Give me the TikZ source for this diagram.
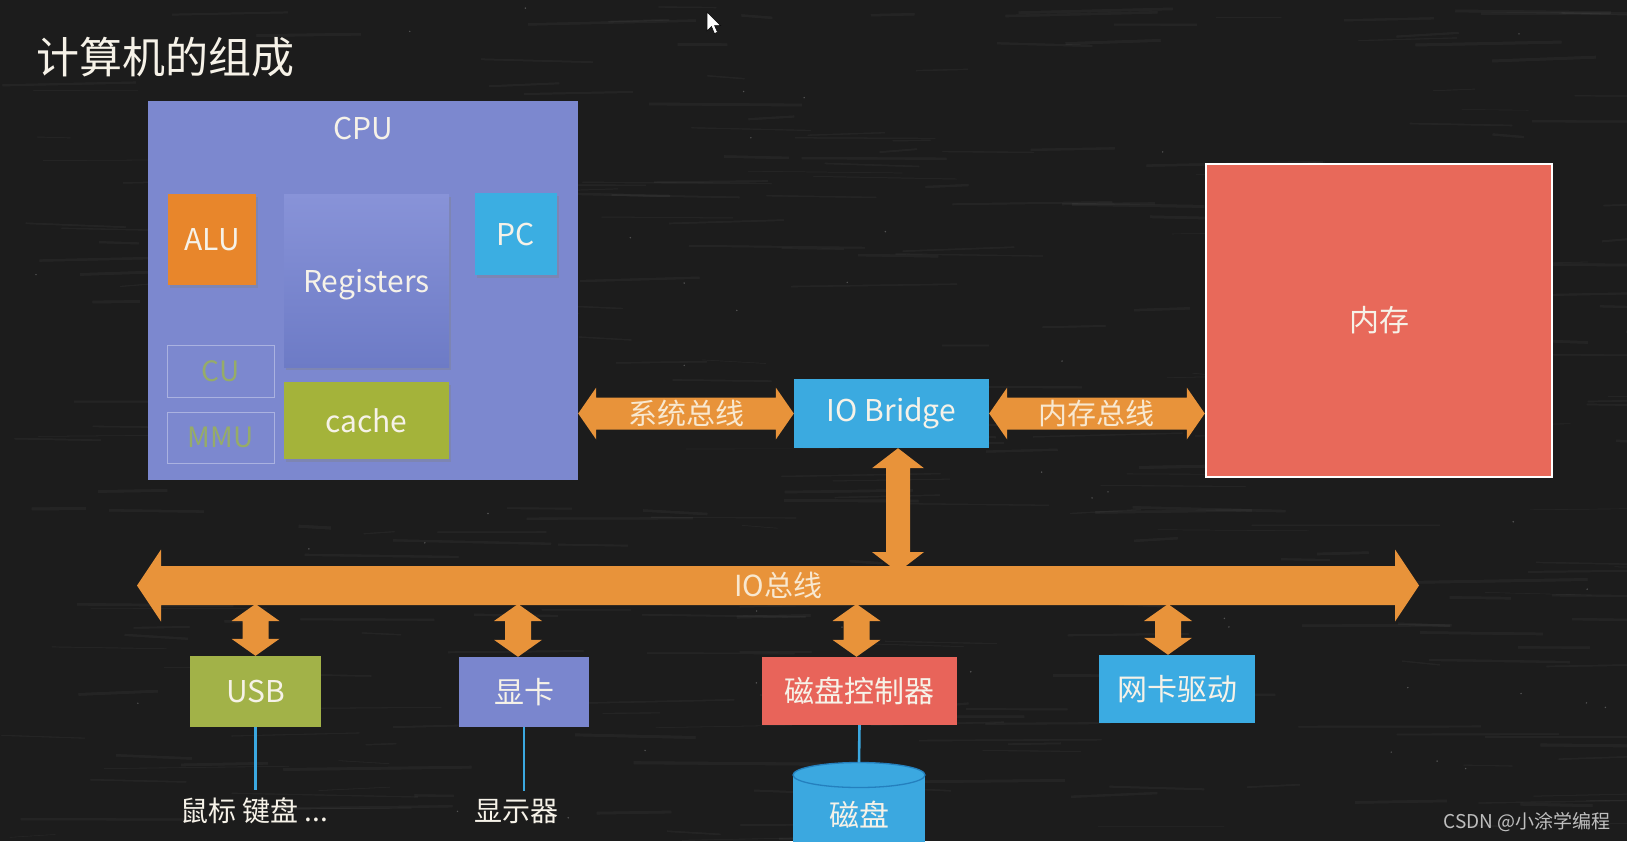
\documentclass[tikz,border=0pt]{standalone}
\usepackage{fontspec}
\setmainfont{Noto Sans CJK SC}
\usetikzlibrary{calc,shadows}

\definecolor{bgc}{RGB}{28,28,28}
\definecolor{cpuc}{RGB}{124,136,207}
\definecolor{aluc}{RGB}{232,134,43}
\definecolor{regtop}{RGB}{136,147,216}
\definecolor{regbot}{RGB}{109,123,198}
\definecolor{pcc}{RGB}{59,174,226}
\definecolor{cachec}{RGB}{164,179,58}
\definecolor{cuc}{RGB}{150,172,104}
\definecolor{memc}{RGB}{232,105,90}
\definecolor{busc}{RGB}{232,147,58}
\definecolor{bridgec}{RGB}{59,170,224}
\definecolor{usbc}{RGB}{162,178,72}
\definecolor{gpuc}{RGB}{122,134,206}
\definecolor{ctrlc}{RGB}{232,100,90}
\definecolor{nicc}{RGB}{59,171,226}
\definecolor{diskc}{RGB}{59,168,224}
\definecolor{diskedge}{RGB}{36,128,190}
\definecolor{txtc}{RGB}{246,242,232}
\definecolor{buslblc}{RGB}{248,232,208}

% horizontal two-headed block arrow: left tip, right tip, shaft half, head half, head length
\newcommand\hbusarrow[5]{%
  \fill[busc] let \p1=#1, \p2=#2 in
    (\x1,\y1) -- (\x1+#5,\y1+#4) -- (\x1+#5,\y1+#3) -- (\x2-#5,\y1+#3)
    -- (\x2-#5,\y1+#4) -- (\x2,\y1) -- (\x2-#5,\y1-#4) -- (\x2-#5,\y1-#3)
    -- (\x1+#5,\y1-#3) -- (\x1+#5,\y1-#4) -- cycle;}
% vertical two-headed block arrow: top tip, bottom tip, shaft half, head half, head length
\newcommand\vbusarrow[5]{%
  \fill[busc] let \p1=#1, \p2=#2 in
    (\x1,\y1) -- (\x1+#4,\y1-#5) -- (\x1+#3,\y1-#5) -- (\x1+#3,\y2+#5)
    -- (\x1+#4,\y2+#5) -- (\x1,\y2) -- (\x1-#4,\y2+#5) -- (\x1-#3,\y2+#5)
    -- (\x1-#3,\y1-#5) -- (\x1-#4,\y1-#5) -- cycle;}

\begin{document}
\begin{tikzpicture}[x=1pt,y=-1pt,
  blk/.style={rectangle, inner sep=0pt, text=txtc, font=\fontsize{30}{32}\selectfont},
  shd/.style={drop shadow={shadow xshift=2pt, shadow yshift=-3pt, opacity=0.35}},
  ghost/.style={rectangle, inner sep=0pt, draw=white!35!cpuc, line width=0.9pt,
                text=cuc, font=\fontsize{28}{30}\selectfont},
  buslbl/.style={text=buslblc, font=\fontsize{29}{31}\selectfont, inner sep=0pt},
  wire/.style={draw=diskc, line width=2.6pt},
  lbl/.style={text=txtc, font=\fontsize{28}{30}\selectfont, inner sep=8pt}]

\fill[bgc] (0,0) rectangle (1627,841);
\useasboundingbox (0,0) rectangle (1627,841);
\clip (0,0) rectangle (1627,841);

% chalkboard streaks
\pgfmathsetseed{11}
\foreach \i in {1,...,320}{
  \pgfmathsetmacro\xa{rnd*1627}
  \pgfmathsetmacro\ya{rnd*841}
  \pgfmathsetmacro\len{30+rnd*160}
  \pgfmathsetmacro\lw{0.6+rnd*2.5}
  \pgfmathsetmacro\dy{rnd*8-4}
  \draw[white, opacity=0.04, line width=\lw pt] (\xa,\ya) -- ++(\len,\dy);
}
\foreach \i in {1,...,60}{
  \pgfmathsetmacro\xa{rnd*1627}
  \pgfmathsetmacro\ya{rnd*841}
  \fill[white, opacity=0.25] (\xa,\ya) circle (0.8pt);
}

% title
\node[anchor=west, inner sep=0pt, text=txtc, font=\fontsize{43}{45}\selectfont]
  (title) at (36,57) {计算机的组成};

% pointer
\filldraw[fill=white, draw=black, line width=0.5pt]
  (707,12) -- (707,31) -- (711.5,26.5) -- (714.5,33.5) -- (717.5,32.2)
  -- (714.5,25.5) -- (720.5,25.5) -- cycle;

% CPU and its parts
\node[rectangle, fill=cpuc, minimum width=430pt, minimum height=379pt, inner sep=0pt]
  (cpu) at (363,290.5) {};
\node[blk] (cpulbl) at ($(cpu.north)+(0,28)$) {CPU};
\node[blk, shd, fill=aluc, minimum width=88pt, minimum height=91pt] (alu) at (212,239.5) {ALU};
\node[blk, shd, top color=regtop, bottom color=regbot, text depth=0pt,
      minimum width=165pt, minimum height=173pt]
  (reg) at (366.5,280.5) {Registers};
\node[blk, shd, fill=pcc, minimum width=82pt, minimum height=82pt] (pc) at (516,234) {PC};
\node[ghost, minimum width=107pt, minimum height=52pt] (cu) at (220.5,371) {CU};
\node[ghost, minimum width=107pt, minimum height=51pt] (mmu) at (220.5,437.5) {MMU};
\node[blk, shd, fill=cachec, minimum width=165pt, minimum height=77pt] (cache) at (366.5,420.5) {cache};

% memory
\node[blk, fill=memc, draw=white, line width=2.5pt, minimum width=346pt, minimum height=313pt]
  (mem) at (1379,320.5) {内存};

% IO bridge
\node[blk, fill=bridgec, minimum width=195pt, minimum height=69pt] (br) at (891.5,413.5) {IO Bridge};

% system bus and memory bus
\hbusarrow{(cpu.east |- br.west)}{(br.west)}{16pt}{26pt}{18pt}
\path (cpu.east |- br.west) -- (br.west) node[midway, buslbl] (sysbus) {系统总线};
\hbusarrow{(br.east)}{(mem.west |- br.east)}{16pt}{26pt}{18pt}
\path (br.east) -- (mem.west |- br.east) node[midway, buslbl] (membus) {内存总线};

% IO bus
\coordinate (busL) at (137,585.5);
\coordinate (busR) at (1419,585.5);
\coordinate (busbot) at (0,604);
\hbusarrow{(busL)}{(busR)}{19.5pt}{36pt}{24pt}
\path (busL) -- (busR) node[midway, buslbl] (iobus) {IO总线};

% bridge to IO bus
\coordinate (brdown) at (898,572);
\vbusarrow{([xshift=6.5pt]br.south)}{(brdown)}{12pt}{26pt}{20pt}

% devices
\node[blk, fill=usbc, minimum width=131pt, minimum height=71pt] (usb) at (255.5,691.5) {USB};
\node[blk, fill=gpuc, minimum width=130pt, minimum height=70pt] (gpu) at (524,692) {显卡};
\node[blk, fill=ctrlc, minimum width=195pt, minimum height=68pt] (ctrl) at (859.5,691) {磁盘控制器};
\node[blk, fill=nicc, minimum width=156pt, minimum height=68pt] (nic) at (1177,689) {网卡驱动};

\vbusarrow{(usb.north |- busbot)}{(usb.north)}{13pt}{24pt}{17pt}
\vbusarrow{([xshift=-6pt]gpu.north |- busbot)}{([xshift=-6pt]gpu.north)}{13pt}{24pt}{17pt}
\vbusarrow{([xshift=-3pt]ctrl.north |- busbot)}{([xshift=-3pt]ctrl.north)}{13pt}{24pt}{17pt}
\vbusarrow{([xshift=-9pt]nic.north |- busbot)}{([xshift=-9pt]nic.north)}{13pt}{24pt}{17pt}

% peripherals
\node[lbl] (mouse) at (254,811) {鼠标 键盘 ...};
\node[lbl] (monitor) at (516,811) {显示器};
\draw[wire] (usb.south) -- (usb.south |- mouse.north);
\draw[wire] (gpu.south) -- (gpu.south |- monitor.north);

% disk
\fill[diskc] (793,775) rectangle (925,880);
\filldraw[fill=diskc, draw=diskedge, line width=1.3pt] (859,775) ellipse [x radius=66pt, y radius=12.5pt];
\coordinate (disktop) at (859,762.5);
\node[blk] (disk) at (859,815) {磁盘};
\draw[wire] (ctrl.south) -- (disktop);

% footer mark
\node[anchor=east, inner sep=0pt, text=white!75!black, font=\fontsize{19}{21}\selectfont]
  (mark) at (1611,822) {CSDN @小涂学编程};
\end{tikzpicture}
\end{document}
